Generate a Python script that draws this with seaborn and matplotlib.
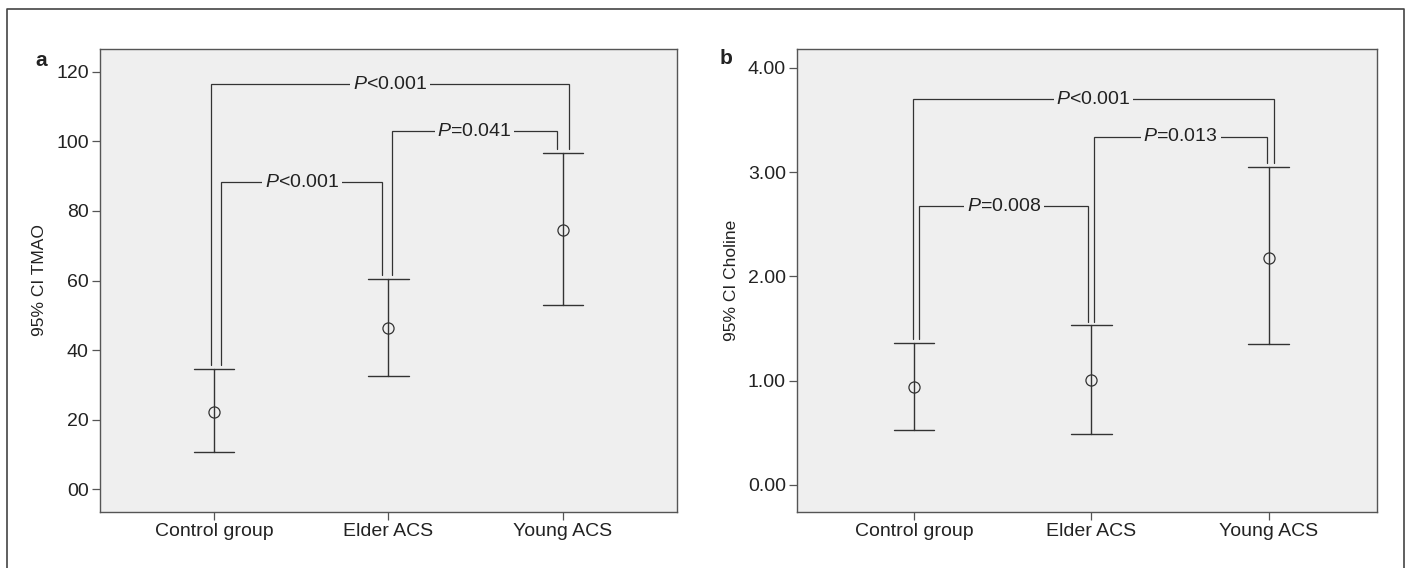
import pandas as pd
import numpy as np
import matplotlib
matplotlib.use("Agg")
import matplotlib.pyplot as plt
from matplotlib import font_manager
import seaborn as sns

# Dados: média e IC 95% por grupo
grupos = ["Control group", "Elder ACS", "Young ACS"]
tmao_media = [22.3, 46.3, 74.5]
tmao_inf = [10.8, 32.5, 53.0]
tmao_sup = [34.5, 60.3, 96.6]
colina_media = [0.94, 1.01, 2.18]
colina_inf = [0.53, 0.49, 1.35]
colina_sup = [1.36, 1.53, 3.05]

# Comparações: (grupo esq, grupo dir, altura, texto)
tmao_comp = [(0, 2, 116.5, "<0.001"), (0, 1, 88.3, "<0.001"), (1, 2, 103.0, "=0.041")]
colina_comp = [(0, 2, 3.70, "<0.001"), (0, 1, 2.67, "=0.008"), (1, 2, 3.34, "=0.013")]

tmao_ticks = [0, 20, 40, 60, 80, 100, 120]
tmao_ticklabels = ["00", "20", "40", "60", "80", "100", "120"]
colina_ticks = [0, 1, 2, 3, 4]
colina_ticklabels = ["0.00", "1.00", "2.00", "3.00", "4.00"]

sns.set_theme(style="white")
nomes = {f.name for f in font_manager.fontManager.ttflist}
fonte = "Liberation Sans Narrow" if "Liberation Sans Narrow" in nomes else "Liberation Sans"
plt.rcParams["font.family"] = [fonte, "DejaVu Sans"]
plt.rcParams["mathtext.fontset"] = "custom"
plt.rcParams["mathtext.rm"] = fonte
plt.rcParams["mathtext.it"] = fonte + ":italic"

FUNDO = "#efefef"
LINHA = "#333333"
TEXTO = "#222222"


def tabela(media, inf, sup):
    linhas = []
    for g, m, a, b in zip(grupos, media, inf, sup):
        for v in (a, m, b):
            linhas.append({"grupo": g, "valor": v})
    return pd.DataFrame(linhas)


def painel(ax, df, comp, pernas, folga):
    sns.pointplot(data=df, x="grupo", y="valor", order=grupos, ax=ax,
                  estimator="median", errorbar=lambda x: (x.min(), x.max()),
                  linestyle="none", marker="o", markersize=8,
                  markerfacecolor="none", markeredgecolor=LINHA,
                  markeredgewidth=0.9, color=LINHA, capsize=0.23,
                  err_kws={"linewidth": 1.0, "color": LINHA})
    sup = df.groupby("grupo")["valor"].max()
    for (i, j, y, txt), (di, dj) in zip(comp, pernas):
        xi, xj = i + di, j + dj
        yi = sup[grupos[i]] + folga
        yj = sup[grupos[j]] + folga
        ax.plot([xi, xi, xj, xj], [yi, y, y, yj], color=LINHA, lw=0.9,
                solid_joinstyle="miter", zorder=1)
        ax.text((xi + xj) / 2, y, r"$\mathit{P}$" + txt, ha="center", va="center",
                fontsize=14, color=TEXTO, zorder=3,
                bbox=dict(facecolor=FUNDO, edgecolor="none", pad=2))
    ax.set_facecolor(FUNDO)
    for s in ax.spines.values():
        s.set_color("#555555")
        s.set_linewidth(1.0)
    ax.tick_params(axis="both", which="both", direction="out", length=6,
                   width=0.9, color="#555555", labelsize=14, labelcolor=TEXTO,
                   left=True, bottom=True, pad=2)
    ax.set_xlabel("")


fig = plt.figure(figsize=(14.1, 5.68), dpi=100)
ax1 = fig.add_axes([0.0709, 0.0986, 0.4092, 0.8151])
ax2 = fig.add_axes([0.5652, 0.0986, 0.4114, 0.8151])

painel(ax1, tabela(tmao_media, tmao_inf, tmao_sup), tmao_comp,
       [(-0.017, 0.035), (0.04, -0.035), (0.023, -0.035)], 1.3)
ax1.set_ylim(-6.6, 126.6)
ax1.set_xlim(-0.655, 2.655)
ax1.set_yticks(tmao_ticks, tmao_ticklabels)
ax1.set_ylabel("95% CI TMAO", fontsize=12.5, color=TEXTO, labelpad=7)

painel(ax2, tabela(colina_media, colina_inf, colina_sup), colina_comp,
       [(-0.006, 0.03), (0.03, -0.017), (0.017, -0.011)], 0.035)
ax2.set_ylim(-0.26, 4.18)
ax2.set_xlim(-0.66, 2.61)
ax2.set_yticks(colina_ticks, colina_ticklabels)
ax2.set_ylabel("95% CI Choline", fontsize=12.5, color=TEXTO, labelpad=6)

fig.text(41 / 1410, 1 - 61 / 568, "a", fontsize=15, fontweight="bold",
         ha="center", va="center", color=TEXTO)
fig.text(726 / 1410, 1 - 59 / 568, "b", fontsize=15, fontweight="bold",
         ha="center", va="center", color=TEXTO)

# moldura externa
fig.add_artist(plt.Line2D([7 / 1410, 7 / 1410, 1404 / 1410, 1404 / 1410],
                          [0, 1 - 9 / 568, 1 - 9 / 568, 0],
                          transform=fig.transFigure, color="#444444", lw=1.2))

fig.savefig("out.png", dpi=100, facecolor="white")
plt.close(fig)
